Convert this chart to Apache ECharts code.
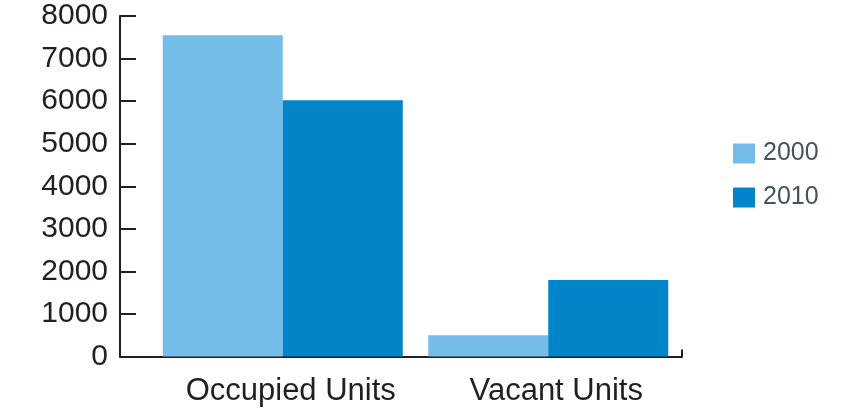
<!DOCTYPE html>
<html>
<head>
<meta charset="utf-8">
<script src="https://cdn.jsdelivr.net/npm/echarts@6/dist/echarts.min.js"></script>
<style>html,body{margin:0;padding:0;background:#fff;}#c{width:864px;height:413px;}</style>
</head>
<body>
<div id="c"></div>
<script>
const categories = ['Occupied Units', 'Vacant Units'];
const seriesNames = ['2000', '2010'];
const values2000 = [7550, 500];
const values2010 = [6020, 1800];
const yMin = 0, yMax = 8000, yStep = 1000;

const font = '"Liberation Sans", Arial, Helvetica, sans-serif';
const axisColor = '#231f20';
const chart = echarts.init(document.getElementById('c'), null, {renderer: 'canvas'});
chart.setOption({
  animation: false,
  backgroundColor: '#ffffff',
  textStyle: {fontFamily: font},
  grid: [
    {left: 150, right: 183, top: 16, bottom: 56.5},
    {left: 120, right: 182, top: 16, bottom: 56.5}
  ],
  legend: {
    orient: 'vertical',
    left: 728, top: 136,
    itemWidth: 22, itemHeight: 20, itemGap: 19,
    icon: 'rect',
    textStyle: {fontSize: 25, color: '#44535e', fontFamily: font, padding: [0, 0, 0, 3]},
    data: seriesNames
  },
  xAxis: [
    {
      type: 'category', gridIndex: 0, data: categories,
      axisLine: {show: false}, axisTick: {show: false},
      axisLabel: {interval: 0, fontSize: 31, color: axisColor, margin: 19, fontFamily: font, padding: [0, 0, 0, 16]}
    },
    {
      type: 'value', gridIndex: 1, min: 0, max: 1, interval: 1,
      axisLine: {show: true, lineStyle: {color: axisColor, width: 2}},
      axisTick: {show: true, inside: true, length: 7, lineStyle: {color: axisColor, width: 2}},
      axisLabel: {show: false}, splitLine: {show: false}
    }
  ],
  yAxis: [
    {
      type: 'value', gridIndex: 0, min: yMin, max: yMax, interval: yStep,
      show: false, splitLine: {show: false}
    },
    {
      type: 'value', gridIndex: 1, min: yMin, max: yMax, interval: yStep,
      axisLine: {show: true, lineStyle: {color: axisColor, width: 2}},
      axisTick: {show: true, inside: true, length: 16, lineStyle: {color: axisColor, width: 2}},
      axisLabel: {fontSize: 30, color: axisColor, margin: 12, fontFamily: font,
                  formatter: function (v) { return String(v); }},
      splitLine: {show: false}
    }
  ],
  series: [
    {name: seriesNames[0], type: 'bar', xAxisIndex: 0, yAxisIndex: 0, data: values2000,
     barWidth: 120, barGap: '0%', itemStyle: {color: '#74bde8'}},
    {name: seriesNames[1], type: 'bar', xAxisIndex: 0, yAxisIndex: 0, data: values2010,
     barWidth: 120, barGap: '0%', itemStyle: {color: '#0085ca'}}
  ]
});
</script>
</body>
</html>
